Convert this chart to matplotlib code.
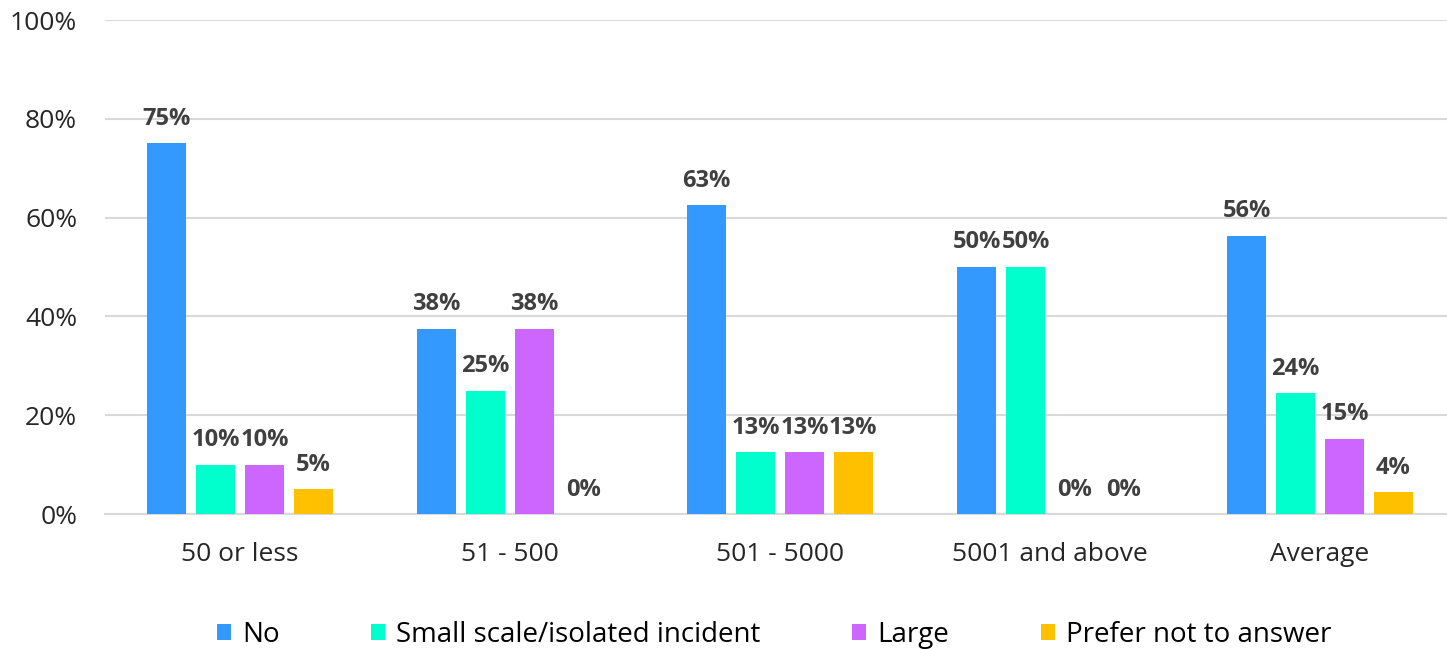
import matplotlib.pyplot as plt
import numpy as np

plt.rcParams['font.family'] = ['Open Sans', 'DejaVu Sans']

categories = ["50 or less", "51 - 500", "501 - 5000", "5001 and above", "Average"]
series = ["No", "Small scale/isolated incident", "Large", "Prefer not to answer"]
no_vals = [75, 37.5, 62.5, 50, 56.3]
small_vals = [10, 25, 12.5, 50, 24.4]
large_vals = [10, 37.5, 12.5, 0, 15.2]
prefer_vals = [5, 0, 12.5, 0, 4.4]
colors = ["#3399FF", "#00FFCC", "#CC66FF", "#FFC000"]

fig = plt.figure(figsize=(14.47, 6.49), dpi=100)
ax = fig.add_axes([105 / 1447, 1 - 514 / 649, 1350 / 1447, 494 / 649])

x = np.arange(len(categories))
stride = 0.181
width = 0.145
offsets = [-1.5 * stride, -0.5 * stride, 0.5 * stride, 1.5 * stride]

for vals, name, col, off in zip([no_vals, small_vals, large_vals, prefer_vals], series, colors, offsets):
    bars = ax.bar(x + off, vals, width, color=col, label=name, zorder=3)
    for b, v in zip(bars, vals):
        ax.annotate(f"{int(v + 0.5)}%", (b.get_x() + b.get_width() / 2, v),
                    xytext=(0, 9), textcoords="offset points",
                    ha="center", va="bottom", fontsize=17, fontweight="bold",
                    color="#404040")

ax.set_xlim(-0.5, 4.5)
ax.set_ylim(0, 100)
ax.set_yticks(range(0, 101, 20))
ax.set_yticklabels([f"{t}%" for t in range(0, 101, 20)])
ax.set_xticks(x)
ax.set_xticklabels(categories)
ax.tick_params(axis="both", length=0, labelsize=19, colors="#262626")
ax.tick_params(axis="x", pad=20)
ax.tick_params(axis="y", pad=20)
ax.yaxis.grid(True, color="#d9d9d9", linewidth=1.5, zorder=0)
for s in ["top", "right", "left"]:
    ax.spines[s].set_visible(False)
ax.spines["bottom"].set_color("#d9d9d9")
ax.spines["bottom"].set_linewidth(1.5)

fig.legend(loc="center", bbox_to_anchor=(774 / 1447, 1 - 635 / 649), ncol=4,
           frameon=False, fontsize=20, handlelength=0.5, handleheight=0.5,
           handletextpad=0.4, columnspacing=3.3)

fig.savefig("out.png", dpi=100)
